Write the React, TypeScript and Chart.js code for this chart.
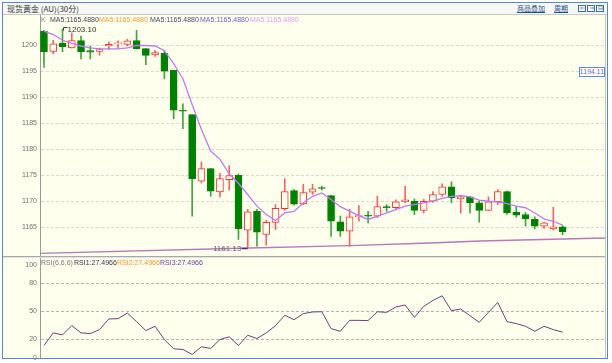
import React, { useEffect, useRef } from "react";
import { Chart, registerables } from "chart.js";

Chart.register(...registerables);

// ---- data ----
const OPEN = [
  1202.75, 1198.85, 1200.4, 1199.55, 1200.95, 1199.0, 1198.85, 1199.9, 1200.3, 1200.2,
  1200.95, 1199.4, 1198.2, 1198.5, 1195.2, 1187.55, 1186.7, 1173.9, 1176.35, 1171.85,
  1174.2, 1175.05, 1164.5, 1168.1, 1163.65, 1166.0, 1168.6, 1172.1, 1169.55, 1171.8,
  1172.65, 1171.15, 1166.1, 1164.3, 1167.1, 1167.4, 1167.2, 1169.0, 1168.8, 1169.95,
  1170.05, 1168.3, 1170.05, 1171.35, 1172.8, 1170.5, 1170.9, 1169.75, 1168.3, 1169.95,
  1171.9, 1167.95, 1167.5, 1166.55, 1165.25, 1164.75, 1165.15,
];
const HIGH = [
  1202.9, 1201.0, 1203.1, 1202.4, 1201.8, 1199.9, 1199.5, 1200.7, 1200.9, 1201.2,
  1202.9, 1199.4, 1199.0, 1199.1, 1195.2, 1188.8, 1186.7, 1177.6, 1176.35, 1175.4,
  1176.9, 1175.3, 1168.5, 1168.5, 1166.35, 1169.4, 1174.4, 1172.3, 1173.3, 1173.3,
  1172.9, 1171.2, 1167.2, 1168.5, 1169.2, 1168.1, 1171.0, 1169.4, 1170.3, 1172.9,
  1170.5, 1170.4, 1171.9, 1173.4, 1173.8, 1171.0, 1171.0, 1170.2, 1170.9, 1172.3,
  1172.0, 1169.1, 1167.9, 1167.05, 1166.0, 1168.9, 1165.4,
];
const LOW = [
  1195.8, 1198.4, 1198.8, 1199.5, 1197.4, 1197.4, 1198.1, 1199.2, 1199.5, 1199.9,
  1199.3, 1196.3, 1197.9, 1193.6, 1185.9, 1184.0, 1167.2, 1173.6, 1171.0, 1170.9,
  1172.2, 1162.7, 1161.13, 1161.4, 1161.6, 1164.6, 1168.3, 1169.3, 1169.4, 1171.35,
  1172.2, 1163.3, 1163.3, 1161.4, 1166.2, 1165.9, 1166.9, 1168.1, 1168.5, 1169.75,
  1167.5, 1167.8, 1169.8, 1171.0, 1169.75, 1167.8, 1167.8, 1166.0, 1168.2, 1169.4,
  1167.5, 1167.0, 1165.25, 1164.75, 1164.8, 1164.5, 1163.6,
];
const CLOSE = [
  1198.8, 1200.3, 1199.7, 1200.95, 1198.8, 1198.7, 1199.2, 1200.2, 1200.45, 1200.9,
  1199.4, 1198.1, 1198.65, 1195.05, 1187.55, 1187.35, 1174.4, 1176.35, 1172.0, 1174.4,
  1175.0, 1164.75, 1168.0, 1164.1, 1166.0, 1168.7, 1171.9, 1169.5, 1171.7, 1172.45,
  1172.5, 1166.2, 1164.3, 1167.05, 1167.3, 1167.2, 1169.0, 1168.8, 1169.95, 1170.3,
  1168.3, 1170.05, 1171.35, 1172.8, 1170.7, 1170.9, 1169.75, 1168.3, 1169.95, 1171.9,
  1167.8, 1167.35, 1166.65, 1165.25, 1165.9, 1165.15, 1164.2,
];
const MA5 = [
  1202.75, 1202.1, 1201.0, 1200.4, 1199.9, 1199.55, 1199.35, 1199.35, 1199.35, 1199.55,
  1200.0, 1200.0, 1199.9, 1199.0, 1196.5, 1193.6, 1188.65, 1183.85, 1179.7, 1178.1,
  1175.3, 1173.5, 1171.35, 1169.1, 1167.5, 1166.35, 1167.8, 1168.1, 1169.75, 1171.0,
  1171.65, 1170.4, 1169.0, 1168.15, 1167.3, 1166.55, 1167.2, 1167.8, 1168.45, 1169.1,
  1169.4, 1169.75, 1170.05, 1170.6, 1171.0, 1171.15, 1170.9, 1170.25, 1170.05, 1169.9,
  1169.6, 1169.1, 1168.8, 1167.8, 1166.65, 1166.2, 1165.45,
];
const RSI = [
  13.2, 26.8, 24.6, 34.6, 26.8, 26.0, 30.3, 41.8, 42.1, 48.2,
  38.9, 29.3, 33.9, 19.6, 9.6, 8.9, 3.5, 11.8, 10.0, 19.6,
  22.5, 13.2, 24.2, 20.7, 26.8, 34.6, 45.7, 41.0, 47.5, 49.3,
  49.6, 31.4, 28.5, 40.3, 40.3, 40.0, 49.6, 48.9, 54.7, 56.8,
  43.5, 55.3, 61.7, 66.8, 50.7, 52.5, 45.3, 38.2, 48.9, 59.6,
  38.9, 36.8, 33.9, 28.5, 33.9, 30.3, 27.5,
];
const LONG_MA_X = [-0.43, 22.2, 33.0, 41.7, 47.1, 60.6];
const LONG_MA_Y = [1160.04, 1161.06, 1161.5, 1162.02, 1162.4, 1162.98];

const PRICE_TICKS = [1165, 1170, 1175, 1180, 1185, 1190, 1195, 1200];
const RSI_TICKS = [0, 20, 50, 80, 100];
const RSI_GRID = [20, 50, 80];

const HIGH_MARK_INDEX = 2;
const HIGH_MARK_LABEL = "1203.10";
const LOW_MARK_INDEX = 22;
const LOW_MARK_LABEL = "1161.13";
const CURSOR_PRICE = 1194.11;
const CURSOR_LABEL = "1194.11";

const TITLE = "现货黄金 (AU)(30分)";
const MA_LEGEND = "MA5:1165.4880";
const RSI_VALUE = "27.4966";

// ---- scale ranges ----
const X_MIN = -0.43;
const X_MAX = 60.58;
const P_MIN = 1159.52;
const P_MAX = 1205.86;
const R_MIN = -0.3;
const R_MAX = 108.6;

const BG = "#ffffee";
const UP = "#ee3535";
const UP_WICK = "#f06565";
const DOWN = "#008000";
const DOWN_WICK = "#45a045";
const FONT = "'Liberation Sans', Arial, sans-serif";

const idx = CLOSE.map((_, i) => i);
const isUp = (i: number) => CLOSE[i] >= OPEN[i];

const annotPlugin = {
  id: "annot",
  afterDatasetsDraw(chart: any) {
    const { ctx, scales } = chart;
    const x = scales.x;
    const y = scales.y;
    ctx.save();
    // high mark
    const hx = Math.round(x.getPixelForValue(HIGH_MARK_INDEX)) + 0.5;
    const hy = y.getPixelForValue(HIGH[HIGH_MARK_INDEX]);
    ctx.strokeStyle = "#3a3a3a";
    ctx.lineWidth = 1;
    ctx.beginPath();
    ctx.moveTo(hx, Math.round(hy) + 1.5);
    ctx.lineTo(hx, Math.round(hy) - 1.5);
    ctx.lineTo(hx + 4, Math.round(hy) - 1.5);
    ctx.stroke();
    ctx.font = `8px ${FONT}`;
    ctx.fillStyle = "#303030";
    ctx.textBaseline = "middle";
    ctx.textAlign = "left";
    ctx.fillText(HIGH_MARK_LABEL, hx + 4, hy);
    // low mark
    const lx = x.getPixelForValue(LOW_MARK_INDEX);
    const ly = Math.round(y.getPixelForValue(LOW[LOW_MARK_INDEX])) + 0.5;
    ctx.strokeStyle = "#6a1a6a";
    ctx.lineWidth = 1.5;
    ctx.beginPath();
    ctx.moveTo(lx - 6, ly);
    ctx.lineTo(lx, ly);
    ctx.stroke();
    ctx.fillStyle = "#5a6478";
    ctx.textAlign = "right";
    ctx.fillText(LOW_MARK_LABEL, lx - 6.5, ly);
    // cursor price box
    const cy = y.getPixelForValue(CURSOR_PRICE);
    const right = chart.chartArea.right;
    const bx = Math.round(right - 26) + 0.5;
    const by = Math.round(cy - 9) + 0.5;
    ctx.fillStyle = "#ffffff";
    ctx.fillRect(bx, by, 25, 9);
    ctx.strokeStyle = "#5a8ad8";
    ctx.lineWidth = 1;
    ctx.strokeRect(bx, by, 25, 9);
    ctx.font = `7px ${FONT}`;
    ctx.fillStyle = "#6666dd";
    ctx.textAlign = "center";
    ctx.fillText(CURSOR_LABEL, bx + 12.5, by + 5);
    ctx.restore();
  },
};

export default function App() {
  const mainRef = useRef<HTMLCanvasElement | null>(null);
  const rsiRef = useRef<HTMLCanvasElement | null>(null);

  useEffect(() => {
    document.body.style.margin = "0";
    const wickData = idx.map((i) => ({ x: i, y: [LOW[i], HIGH[i]] }));
    const bodyData = idx.map((i) => ({ x: i, y: [OPEN[i], CLOSE[i]] }));

    const main = new Chart(mainRef.current as HTMLCanvasElement, {
      type: "bar",
      data: {
        datasets: [
          {
            type: "line",
            data: idx.map((i) => ({ x: i, y: MA5[i] })),
            borderColor: "#bb7cee",
            borderWidth: 1.3,
            pointRadius: 0,
            tension: 0,
            order: 0,
          } as any,
          {
            type: "line",
            data: LONG_MA_X.map((xv, k) => ({ x: xv, y: LONG_MA_Y[k] })),
            borderColor: "#b878b8",
            borderWidth: 1.3,
            pointRadius: 0,
            tension: 0,
            order: 0,
          } as any,
          {
            data: bodyData,
            grouped: false,
            barThickness: 7,
            minBarLength: 1,
            borderWidth: 1,
            borderSkipped: false,
            backgroundColor: idx.map((i) => (isUp(i) ? BG : DOWN)),
            borderColor: idx.map((i) => (isUp(i) ? UP : DOWN)),
            order: 1,
          } as any,
          {
            data: wickData,
            grouped: false,
            barThickness: 1,
            borderWidth: 0,
            backgroundColor: idx.map((i) => (isUp(i) ? UP_WICK : DOWN_WICK)),
            order: 2,
          } as any,
        ],
      },
      options: {
        animation: false,
        responsive: false,
        maintainAspectRatio: false,
        events: [],
        layout: { padding: { left: 0, right: 7, top: 0, bottom: 0 } },
        plugins: { legend: { display: false }, tooltip: { enabled: false } },
        scales: {
          x: { type: "linear", min: X_MIN, max: X_MAX, display: false, offset: false },
          y: {
            type: "linear",
            position: "left",
            min: P_MIN,
            max: P_MAX,
            afterBuildTicks: (s: any) => {
              s.ticks = PRICE_TICKS.map((v) => ({ value: v }));
            },
            afterFit: (s: any) => {
              s.width = 40;
              s.paddingTop = 0;
              s.paddingBottom = 0;
            },
            ticks: {
              font: { family: FONT, size: 7 },
              color: "#707070",
              padding: 3,
              callback: (v: any) => String(v),
            },
            grid: { color: "#d8d8d0", drawTicks: false, lineWidth: 1 },
            border: { display: true, color: "#9a9a9a", dash: [3, 2] },
          },
        },
      } as any,
      plugins: [annotPlugin],
    });

    const rsi = new Chart(rsiRef.current as HTMLCanvasElement, {
      type: "line",
      data: {
        datasets: [
          {
            data: idx.map((i) => ({ x: i, y: RSI[i] })),
            borderColor: "#6e3c7c",
            borderWidth: 1,
            pointRadius: 0,
            tension: 0,
          },
        ],
      },
      options: {
        animation: false,
        responsive: false,
        maintainAspectRatio: false,
        events: [],
        layout: { padding: { left: 0, right: 7, top: 0, bottom: 5 } },
        plugins: { legend: { display: false }, tooltip: { enabled: false } },
        scales: {
          x: { type: "linear", min: X_MIN, max: X_MAX, display: false, offset: false },
          y: {
            type: "linear",
            position: "left",
            min: R_MIN,
            max: R_MAX,
            afterBuildTicks: (s: any) => {
              s.ticks = RSI_TICKS.map((v) => ({ value: v }));
            },
            afterFit: (s: any) => {
              s.width = 40;
              s.paddingTop = 0;
              s.paddingBottom = 0;
            },
            ticks: {
              font: { family: FONT, size: 7 },
              color: "#707070",
              padding: 3,
              callback: (v: any) => String(v),
            },
            grid: {
              color: (c: any) =>
                c.tick && RSI_GRID.includes(c.tick.value) ? "#b4b4b4" : "rgba(0,0,0,0)",
              drawTicks: false,
              lineWidth: 1,
            },
            border: { display: true, color: "#9a9a9a", dash: [3, 2] },
          },
        },
      } as any,
    });

    return () => {
      main.destroy();
      rsi.destroy();
    };
  }, []);

  const abs = (left: number, top: number, extra: any = {}) => ({
    position: "absolute" as const,
    left,
    top,
    ...extra,
  });
  const txt = (left: number, top: number, color: string, size = 7, family = FONT) =>
    abs(left, top, {
      color,
      fontSize: size,
      fontFamily: family,
      lineHeight: `${size}px`,
      whiteSpace: "nowrap",
      zIndex: 3,
    });

  return (
    <div
      style={{
        position: "fixed",
        left: 0,
        top: 0,
        width: 612,
        height: 363,
        background: "#ffffff",
        overflow: "hidden",
      }}
    >
      {/* title bar */}
      <div style={abs(3, 3, { width: 604, height: 12, background: "#f7f7f4" })} />
      <div style={abs(3, 14, { width: 604, height: 1, background: "#c8c8c8" })} />
      {/* panel background */}
      <div style={abs(3, 15, { width: 602, height: 343, background: BG })} />
      {/* right strip */}
      <div style={abs(605, 15, { width: 1, height: 343, background: "#c4c4c4" })} />
      {/* divider between panels */}
      <div style={abs(3, 256, { width: 602, height: 1, background: "#a8a8a8", zIndex: 2 })} />
      <div style={abs(3, 257, { width: 602, height: 1, background: "#e2e2e2", zIndex: 2 })} />

      <canvas
        ref={mainRef}
        width={612}
        height={241}
        style={abs(0, 15, { width: 612, height: 241, display: "block", zIndex: 1 })}
      />
      <canvas
        ref={rsiRef}
        width={612}
        height={106}
        style={abs(0, 257, { width: 612, height: 106, display: "block", zIndex: 1 })}
      />

      {/* outer frame */}
      <div
        style={abs(2, 2, {
          width: 606,
          height: 357,
          boxSizing: "border-box",
          border: "1px solid #5588cc",
          zIndex: 4,
          pointerEvents: "none",
        })}
      />

      {/* title and links */}
      <span style={txt(7, 5, "#333333", 8, "'Noto Sans CJK SC', sans-serif")}>{TITLE}</span>
      <span
        style={{
          ...txt(517, 5, "#1d4f90", 7, "'Noto Sans CJK SC', sans-serif"),
          textDecoration: "underline",
        }}
      >
        商品叠加
      </span>
      <span
        style={{
          ...txt(554, 5, "#1d4f90", 7, "'Noto Sans CJK SC', sans-serif"),
          textDecoration: "underline",
        }}
      >
        周期
      </span>
      {["⇐", "⇒", "⊟"].map((g, k) => (
        <span
          key={k}
          style={{
            ...txt(578 + k * 9, 5, "#3b6db3", 7),
            width: 8,
            height: 7,
            boxSizing: "border-box",
            border: "1px solid #3b6db3",
            textAlign: "center",
            lineHeight: "5px",
            fontSize: 6,
          }}
        >
          {g}
        </span>
      ))}

      {/* main legend */}
      <span style={txt(41, 16, "#8a8a8a")}>K</span>
      <span style={txt(50, 16, "#454560")}>{MA_LEGEND}</span>
      <span style={txt(99, 16, "#ff9a3c")}>{MA_LEGEND}</span>
      <span style={txt(150, 16, "#4a4a78")}>{MA_LEGEND}</span>
      <span style={txt(200, 16, "#7060cc")}>{MA_LEGEND}</span>
      <span style={txt(250, 16, "#e39cf2")}>{MA_LEGEND}</span>

      {/* RSI legend */}
      <span style={txt(41, 259, "#777777")}>RSI(6,6,6)</span>
      <span style={txt(74, 259, "#2f3050")}>{"RSI1:" + RSI_VALUE}</span>
      <span style={txt(117, 259, "#ff9030")}>{"RSI2:" + RSI_VALUE}</span>
      <span style={txt(160, 259, "#6a3a9a")}>{"RSI3:" + RSI_VALUE}</span>
    </div>
  );
}
